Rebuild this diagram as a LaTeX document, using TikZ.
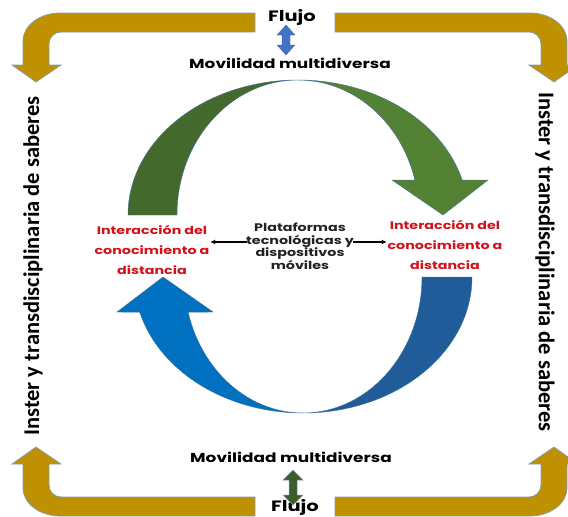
\documentclass[tikz,border=0pt]{standalone}
\usepackage{fontspec}
\setmainfont{Poppins}[FakeStretch=1.3]
\newfontfamily\carl{Carlito}
\usetikzlibrary{arrows.meta}
\definecolor{gold}{HTML}{BF9000}
\definecolor{framegray}{HTML}{7F9DB9}
\definecolor{shapeline}{HTML}{41719C}
\definecolor{dkgreen}{HTML}{44692D}
\definecolor{ltgreen}{HTML}{548235}
\definecolor{ltblue}{HTML}{0070C0}
\definecolor{dkblue}{HTML}{1F5C99}
\definecolor{dblblue}{HTML}{4472C4}
\definecolor{dblgreen}{HTML}{3B5E2B}
\definecolor{redtxt}{HTML}{D0121B}
\definecolor{txtgray}{HTML}{222222}
\tikzset{
  goldshape/.style={fill=gold, draw=framegray, line width=0.7pt},
  arcshape/.style={draw=shapeline, line width=0.4pt},
  lbl/.style={font=\fontsize{13}{15}\selectfont\bfseries, text=black, inner sep=1pt},
  flujolbl/.style={font=\fontsize{15}{17}\selectfont\bfseries, text=black, inner sep=1pt},
  redlbl/.style={font=\fontsize{11}{20}\selectfont\bfseries, text=redtxt, align=center, inner sep=1pt},
  midlbl/.style={font=\fontsize{11}{12.5}\selectfont\bfseries, text=txtgray, align=center, inner sep=1pt},
  sidelbl/.style={font=\carl\fontsize{22.5}{24}\selectfont\bfseries, text=black, inner sep=0pt},
  txtarrow/.style={-{Stealth[length=5pt,width=4.5pt]}, line width=1.1pt, black}
}
\newcommand\goldcornerpath{(255,13) -- (60,13) arc[start angle=270,end angle=180,x radius=37,y radius=28] -- (23,65) -- (12,65) -- (36,82) -- (61,65) -- (49,65) -- (49,44) arc[start angle=180,end angle=270,x radius=12,y radius=12] -- (255,32) -- cycle}
\begin{document}
\begin{tikzpicture}[x=1pt,y=-1pt]
\path[use as bounding box, clip] (0,0) rectangle (568,517);
\fill[white] (0,0) rectangle (568,517);
% gold frame arrows
\path[goldshape] \goldcornerpath;
\begin{scope}[shift={(590,0)}, xscale=-1]
  \path[goldshape] \goldcornerpath;
\end{scope}
\begin{scope}[shift={(0,529)}, yscale=-1]
  \path[goldshape] \goldcornerpath;
\end{scope}
\begin{scope}[shift={(590,529)}, xscale=-1, yscale=-1]
  \path[goldshape] \goldcornerpath;
\end{scope}
% green curved arrow (top)
\path[arcshape, fill=dkgreen] (128,215) arc[start angle=180,end angle=270,x radius=170,y radius=135]
  arc[start angle=270,end angle=180,x radius=121,y radius=135] -- cycle;
\path[arcshape, fill=ltgreen] (298,80) arc[start angle=270,end angle=345,x radius=170,y radius=135]
  -- (488,180) -- (443,215) -- (392,180) -- (414.9,180.1)
  arc[start angle=345,end angle=270,x radius=121,y radius=135] -- cycle;
% blue curved arrow (bottom)
\path[arcshape, fill=dkblue] (472,277) arc[start angle=0,end angle=90,x radius=169,y radius=136]
  arc[start angle=90,end angle=0,x radius=119,y radius=136] -- cycle;
\path[arcshape, fill=ltblue] (303,413) arc[start angle=90,end angle=165,x radius=169,y radius=136]
  -- (117,312) -- (163,277) -- (213,312) -- (188.1,312.2)
  arc[start angle=165,end angle=90,x radius=119,y radius=136] -- cycle;
% text nodes
\node[flujolbl] (flujoT) at (292,17) {Flujo};
\node[lbl] (movT) at (290,63) {Movilidad multidiversa};
\node[lbl] (movB) at (291,457) {Movilidad multidiversa};
\node[flujolbl] (flujoB) at (295,507) {Flujo};
\node[sidelbl, rotate=90] (sideL) at (33,266) {Inster y transdisciplinaria de saberes};
\node[sidelbl, rotate=-90] (sideR) at (545,262) {Inster y transdisciplinaria de saberes};
\node[redlbl] (redL) at (152,250) {Interacción del\\conocimiento a\\distancia};
\node[redlbl] (redR) at (445,245) {Interacción del\\conocimiento a\\distancia};
\node[midlbl] (plat) at (300,246) {Plataformas\\tecnológicas y\\dispositivos\\móviles};
% double block arrows
\path[fill=dblblue, draw=shapeline, line width=0.3pt] (286,25) -- (295,35) -- (290,35) -- (290,45) -- (295,45) -- (286,55) -- (277,45) -- (282,45) -- (282,35) -- (277,35) -- cycle;
\path[fill=dblgreen, draw=framegray, line width=0.5pt] (293,470) -- (303,480) -- (297,480) -- (297,495) -- (303,495) -- (293,505) -- (283,495) -- (289,495) -- (289,480) -- (283,480) -- cycle;
% connectors
\coordinate (platL) at (247,242);
\coordinate (platR) at (353,242);
\draw[txtarrow] (platL) -- (platL -| redL.east);
\draw[txtarrow] (platR) -- (platR -| redR.west);
\end{tikzpicture}
\end{document}
